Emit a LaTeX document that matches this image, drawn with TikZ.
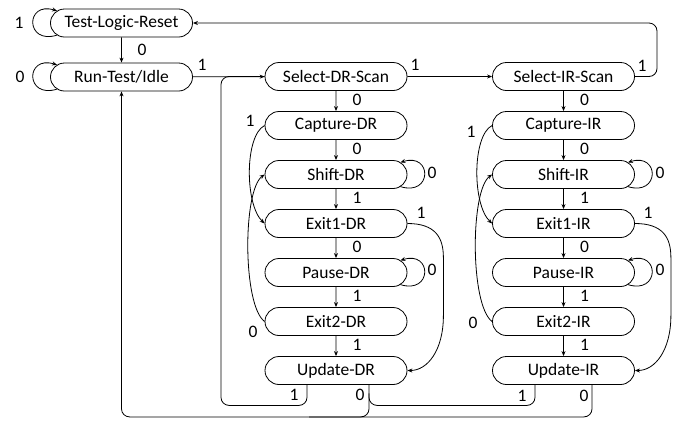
\documentclass[tikz,border=0pt]{standalone}
\usepackage{fontspec}
\setmainfont{Carlito}
\usetikzlibrary{shapes.misc,arrows.meta,calc}
\begin{document}
\begin{tikzpicture}[x=1pt,y=-1pt,
  st/.style={draw, rounded rectangle, minimum width=142pt, minimum height=28pt, inner sep=0pt, font=\fontsize{17.5}{20}\selectfont, line width=0.8pt},
  lb/.style={font=\fontsize{17.5}{20}\selectfont, inner sep=0pt},
  ar/.style={-{Stealth[length=5pt,width=4pt]}, line width=0.8pt},
  ln/.style={line width=0.8pt}]
\useasboundingbox (0,0) rectangle (681,424);
% states
\node[st] (tlr) at (121.5,23) {Test-Logic-Reset};
\node[st] (rti) at (121.5,77) {Run-Test/Idle};
\node[st] (sdr) at (336,76.5) {Select-DR-Scan};
\node[st] (cdr) at (336,125.5) {Capture-DR};
\node[st] (shd) at (336,174.5) {Shift-DR};
\node[st] (e1d) at (336,223.5) {Exit1-DR};
\node[st] (pdr) at (336,272.5) {Pause-DR};
\node[st] (e2d) at (336,321.5) {Exit2-DR};
\node[st] (udr) at (336,370.5) {Update-DR};
\node[st] (sir) at (563.5,76.5) {Select-IR-Scan};
\node[st] (cir) at (563.5,125.5) {Capture-IR};
\node[st] (shi) at (563.5,174.5) {Shift-IR};
\node[st] (e1i) at (563.5,223.5) {Exit1-IR};
\node[st] (pir) at (563.5,272.5) {Pause-IR};
\node[st] (e2i) at (563.5,321.5) {Exit2-IR};
\node[st] (uir) at (563.5,370.5) {Update-IR};
% top transitions
\draw[ar] (tlr) -- (rti);
\draw[ar] (rti) -- (sdr);
\draw[ar] (sdr) -- (sir);
\coordinate (c1) at (657,76.5);
\coordinate (c2) at (657,23);
\draw[ar, rounded corners=8pt] (sir.east) -- (c1) -- (c2) -- (tlr.east);
% left self loops
\draw[ar] ($(tlr.west)+(7,12.1)$) .. controls +(-32,10) and +(-32,-10) .. ($(tlr.west)+(7,-12.1)$);
\draw[ar] ($(rti.west)+(7,12.1)$) .. controls +(-32,10) and +(-32,-10) .. ($(rti.west)+(7,-12.1)$);
% columns
\foreach \a/\b in {sdr/cdr,cdr/shd,shd/e1d,e1d/pdr,pdr/e2d,e2d/udr,sir/cir,cir/shi,shi/e1i,e1i/pir,pir/e2i,e2i/uir}
  \draw[ar] (\a) -- (\b);
% right self loops
\foreach \n in {shd,pdr,shi,pir}
  \draw[ar] ($(\n.east)+(-7,12.1)$) .. controls +(32,10) and +(32,-10) .. ($(\n.east)+(-7,-12.1)$);
% left curves
\draw[ar] (cdr.west) .. controls +(-20,10) and +(-20,-19) .. (e1d.west);
\draw[ar] (e2d.west) .. controls +(-22,-16) and +(-22,16) .. (shd.west);
\draw[ar] (cir.west) .. controls +(-20,10) and +(-20,-19) .. (e1i.west);
\draw[ar] (e2i.west) .. controls +(-22,-16) and +(-22,16) .. (shi.west);
% right curves
\draw[ar] (e1d.east) .. controls +(28,0) and +(0,-20) .. ($(e1d.east)+(36,34)$) -- ($(udr.east)+(36,-55)$) .. controls +(0,35) and +(20,0) .. (udr.east);
\draw[ar] (e1i.east) .. controls +(28,0) and +(0,-20) .. ($(e1i.east)+(36,34)$) -- ($(uir.east)+(36,-55)$) .. controls +(0,35) and +(20,0) .. (uir.east);
% bottom returns
\coordinate (ud1) at ($(udr.south)+(-29,0)$);
\coordinate (ud0) at ($(udr.south)+(33,0)$);
\coordinate (ui1) at ($(uir.south)+(-28.5,0)$);
\coordinate (ui0) at ($(uir.south)+(28.5,0)$);
\coordinate (lft) at (221,76.5);
\draw[ln, rounded corners=8pt] (ud1) -- ++(0,20.5) -| (lft) -- (sdr.west);
\draw[ar, rounded corners=8pt] (ud0) -- ++(0,32) -| (rti.south);
\coordinate (jn) at ($(ud0)+(0,20.5)$);
\draw[ln, rounded corners=8pt] (ui1) -- ++(0,20.5) -- (jn) -- ++(0,-12);
\coordinate (bt) at ($(ud0)+(-60,32)$);
\draw[ln, rounded corners=8pt] (ui0) -- ++(0,32) -- (bt);
% labels
\node[lb] (l1) at (19,23) {1};
\node[lb] (l2) at (20,77) {0};
\node[lb] (l3) at (142,50) {0};
\node[lb] (l4) at (202,65) {1};
\node[lb] (l5) at (415,65) {1};
\node[lb] (l6) at (642,66) {1};
\node[lb] (d1) at (357,100) {0};
\node[lb] (d2) at (357,149) {0};
\node[lb] (d3) at (357,198) {1};
\node[lb] (d4) at (357,247) {0};
\node[lb] (d5) at (357,296) {1};
\node[lb] (d6) at (357,345) {1};
\node[lb] (d7) at (250,121) {1};
\node[lb] (d8) at (432,173) {0};
\node[lb] (d9) at (432,270) {0};
\node[lb] (d10) at (421,213) {1};
\node[lb] (d11) at (253,332) {0};
\node[lb] (d12) at (294,395) {1};
\node[lb] (d13) at (360,395) {0};
\node[lb] (i1) at (584.5,100) {0};
\node[lb] (i2) at (584.5,149) {0};
\node[lb] (i3) at (584.5,198) {1};
\node[lb] (i4) at (584.5,247) {0};
\node[lb] (i5) at (584.5,296) {1};
\node[lb] (i6) at (584.5,345) {1};
\node[lb] (i7) at (471,132) {1};
\node[lb] (i8) at (660,173) {0};
\node[lb] (i9) at (660,270) {0};
\node[lb] (i10) at (648,213) {1};
\node[lb] (i11) at (473,323) {0};
\node[lb] (i12) at (522,396) {1};
\node[lb] (i13) at (584,396) {0};
\end{tikzpicture}
\end{document}
